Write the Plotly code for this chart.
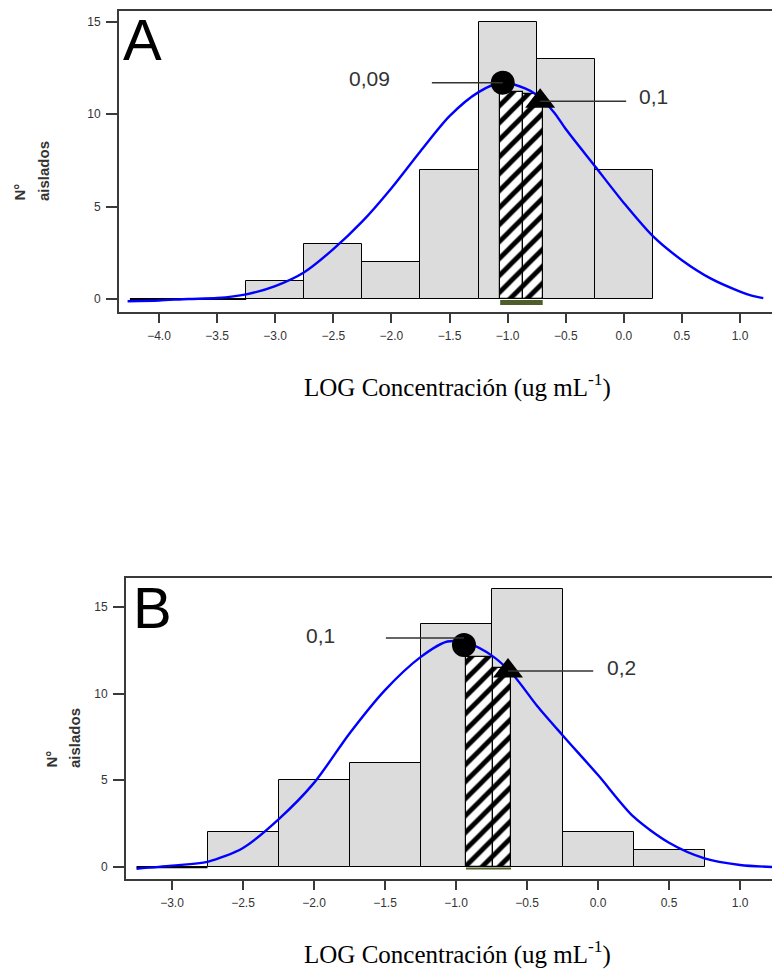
import plotly.graph_objects as go

W, H = 772, 969

# ---------------- data ----------------
bin_width = 0.5

# Panel A histogram
a_centers = [-3.0, -2.5, -2.0, -1.5, -1.0, -0.5, 0.0]
a_counts = [1, 3, 2, 7, 15, 13, 7]
a_zero_bins = [-4.0, -3.5]
a_hatch_edges = [-1.064, -0.865, -0.698]
a_hatch_heights = [11.2, 11.1]
a_curve_x = [-4.27, -4.0, -3.75, -3.5, -3.25, -3.0, -2.75, -2.5, -2.25, -2.0, -1.75,
             -1.5, -1.25, -1.05, -0.85, -0.75, -0.6, -0.5, -0.25, 0.0, 0.25, 0.5,
             0.75, 1.0, 1.1, 1.2]
a_curve_y = [-0.12, -0.08, 0.0, 0.05, 0.25, 0.7, 1.45, 2.7, 4.2, 6.0, 8.0,
             9.9, 11.2, 11.72, 11.4, 11.05, 10.1, 9.2, 7.2, 5.2, 3.4, 2.1,
             1.1, 0.4, 0.18, 0.05]
a_circle = (-1.042, 11.71)
a_triangle = (-0.72, 10.7)
a_labels = ["0,09", "0,1"]
a_xticks = [-4.0, -3.5, -3.0, -2.5, -2.0, -1.5, -1.0, -0.5, 0.0, 0.5, 1.0]

# Panel B histogram
b_centers = [-2.5, -2.0, -1.5, -1.0, -0.5, 0.0, 0.5]
b_counts = [2, 5, 6, 14, 16, 2, 1]
b_zero_bins = [-3.0]
b_hatch_edges = [-0.93, -0.742, -0.613]
b_hatch_heights = [12.1, 11.5]
b_curve_x = [-3.25, -3.0, -2.75, -2.5, -2.25, -2.0, -1.75, -1.5, -1.25, -1.06, -0.9,
             -0.75, -0.6, -0.43, -0.25, 0.0, 0.25, 0.5, 0.75, 1.0, 1.225]
b_curve_y = [-0.1, 0.08, 0.3, 1.1, 2.75, 4.85, 7.7, 10.2, 12.1, 13.0, 12.85,
             12.2, 11.1, 9.3, 7.6, 5.3, 2.9, 1.4, 0.5, 0.12, 0.0]
b_circle = (-0.944, 12.8)
b_triangle = (-0.634, 11.3)
b_labels = ["0,1", "0,2"]
b_xticks = [-3.0, -2.5, -2.0, -1.5, -1.0, -0.5, 0.0, 0.5, 1.0]

y_ticks = [0, 5, 10, 15]

# ---------------- style ----------------
GRAY = "#dcdcdc"
AXIS = "#3a3a3a"
TEXT = "#333333"
BLUE = "#0000ff"
OLIVE = "#4f5d2a"
SANS = "Liberation Sans, Arial, sans-serif"
SERIF = "Liberation Serif, Times New Roman, serif"


def px(xp):
    return xp / W


def py(yp):
    return 1 - yp / H


fig = go.Figure()


def add_panel(xa, ya, centers, counts, zero_bins, hatch_edges, hatch_heights,
              cx, cy, circle, triangle):
    fig.add_trace(go.Bar(
        x=centers, y=counts, width=[bin_width] * len(centers),
        marker=dict(color=GRAY, line=dict(color="black", width=1)),
        xaxis=xa, yaxis=ya, showlegend=False, hoverinfo="skip"))
    hx = [(hatch_edges[i] + hatch_edges[i + 1]) / 2 for i in range(len(hatch_heights))]
    hw = [hatch_edges[i + 1] - hatch_edges[i] for i in range(len(hatch_heights))]
    fig.add_trace(go.Bar(
        x=hx, y=hatch_heights, width=hw, opacity=1,
        marker=dict(color="white", opacity=1, line=dict(color="black", width=1.2),
                    pattern=dict(shape="/", fgcolor="#000000", bgcolor="white",
                                 fgopacity=1, fillmode="replace",
                                 size=12, solidity=0.4)),
        xaxis=xa, yaxis=ya, showlegend=False, hoverinfo="skip"))
    zx0 = min(zero_bins) - bin_width / 2
    zx1 = max(zero_bins) + bin_width / 2
    fig.add_trace(go.Scatter(
        x=[zx0, zx1], y=[0, 0], mode="lines",
        line=dict(color="black", width=2.2),
        xaxis=xa, yaxis=ya, showlegend=False, hoverinfo="skip"))
    fig.add_trace(go.Scatter(
        x=cx, y=cy, mode="lines",
        line=dict(color=BLUE, width=2.4, shape="spline", smoothing=0.8),
        xaxis=xa, yaxis=ya, showlegend=False, hoverinfo="skip"))
    fig.add_trace(go.Scatter(
        x=[circle[0]], y=[circle[1]], mode="markers",
        marker=dict(symbol="circle", size=24, color="black"),
        xaxis=xa, yaxis=ya, showlegend=False, hoverinfo="skip"))
    fig.add_trace(go.Scatter(
        x=[triangle[0]], y=[triangle[1]], mode="markers",
        marker=dict(symbol="triangle-up", size=26, color="black"),
        xaxis=xa, yaxis=ya, showlegend=False, hoverinfo="skip"))


add_panel("x", "y", a_centers, a_counts, a_zero_bins, a_hatch_edges, a_hatch_heights,
          a_curve_x, a_curve_y, a_circle, a_triangle)
add_panel("x2", "y2", b_centers, b_counts, b_zero_bins, b_hatch_edges, b_hatch_heights,
          b_curve_x, b_curve_y, b_circle, b_triangle)


def xaxis_style(domain, rng, ticks, anchor):
    return dict(domain=domain, range=rng, anchor=anchor, tickvals=ticks,
                tickformat=".1f", ticks="outside", ticklen=9, tickwidth=1.5,
                tickcolor=AXIS, showline=True, linecolor=AXIS, linewidth=2,
                mirror=True, showgrid=False, zeroline=False,
                tickfont=dict(family=SANS, size=12, color=TEXT),
                ticklabelstandoff=3)


def yaxis_style(domain, rng, anchor):
    return dict(domain=domain, range=rng, anchor=anchor, tickvals=y_ticks,
                ticks="outside", ticklen=11, tickwidth=1.5, tickcolor=AXIS,
                showline=True, linecolor=AXIS, linewidth=2, mirror=False,
                showgrid=False, zeroline=False,
                tickfont=dict(family=SANS, size=12, color=TEXT),
                ticklabelstandoff=3)


fig.update_layout(
    width=W, height=H, margin=dict(l=0, r=0, t=0, b=0),
    paper_bgcolor="white", plot_bgcolor="white", barmode="overlay", bargap=0,
    xaxis=xaxis_style([px(119), 1.0], [-4.344, 1.275], a_xticks, "y"),
    yaxis=yaxis_style([py(312), py(11)], [-0.704, 15.59], "x"),
    xaxis2=xaxis_style([px(126), 1.0], [-3.324, 1.225], b_xticks, "y2"),
    yaxis2=yaxis_style([py(879), py(578)], [-0.69, 16.66], "x2"),
)

# Olive strips under the hatched columns
for xr, yr, edges, y0, y1 in [("x", "y", a_hatch_edges, -0.05, -0.32),
                              ("x2", "y2", b_hatch_edges, -0.02, -0.14)]:
    fig.add_shape(type="rect", xref=xr, yref=yr, x0=edges[0], x1=edges[-1],
                  y0=y0, y1=y1, fillcolor=OLIVE, line=dict(width=0), layer="above")

# Leader lines from the markers to their value labels
leaders = [
    ("x", "y", a_circle, -0.61, 0.0),
    ("x", "y", a_triangle, 0.74, 0.0),
    ("x2", "y2", b_circle, -0.55, 0.4),
    ("x2", "y2", b_triangle, 0.6, 0.0),
]
for xr, yr, pt, dx, dy in leaders:
    x0 = pt[0] + dx
    fig.add_shape(type="line", xref=xr, yref=yr, x0=x0, x1=pt[0],
                  y0=pt[1] + dy, y1=pt[1] + dy,
                  line=dict(color=TEXT, width=1.5), layer="above")

annotations = []
# value labels
for txt, (cxp, cyp) in zip(a_labels + b_labels,
                           [(369, 78), (653, 96), (320, 635), (621, 667)]):
    annotations.append(dict(text=txt, x=px(cxp), y=py(cyp), xref="paper", yref="paper",
                            showarrow=False, xanchor="center", yanchor="middle",
                            font=dict(family=SANS, size=21, color=TEXT)))
# panel letters
for txt, lx, ly in [("A", 121, 40), ("B", 131, 607)]:
    annotations.append(dict(text=txt, x=px(lx), y=py(ly), xref="paper", yref="paper",
                            showarrow=False, xanchor="left", yanchor="middle",
                            font=dict(family=SANS, size=58, color="black")))
# y-axis titles (two rotated lines)
for lx1, lx2, by in [(19, 43, 203), (51, 74, 770)]:
    annotations.append(dict(text="<b>N°</b>", x=px(lx1), y=py(by), xref="paper",
                            yref="paper", showarrow=False, textangle=-90,
                            xanchor="center", yanchor="bottom",
                            font=dict(family=SANS, size=15, color=TEXT)))
    annotations.append(dict(text="<b>aislados</b>", x=px(lx2), y=py(by), xref="paper",
                            yref="paper", showarrow=False, textangle=-90,
                            xanchor="center", yanchor="bottom",
                            font=dict(family=SANS, size=15, color=TEXT)))
# x-axis titles
for ty in [385, 952]:
    annotations.append(dict(text="LOG Concentración (ug mL<sup>-1</sup>)",
                            x=px(457), y=py(ty), xref="paper", yref="paper",
                            showarrow=False, xanchor="center", yanchor="middle",
                            font=dict(family=SERIF, size=25, color="black")))

fig.update_layout(annotations=annotations)

fig.write_html("out.html")
